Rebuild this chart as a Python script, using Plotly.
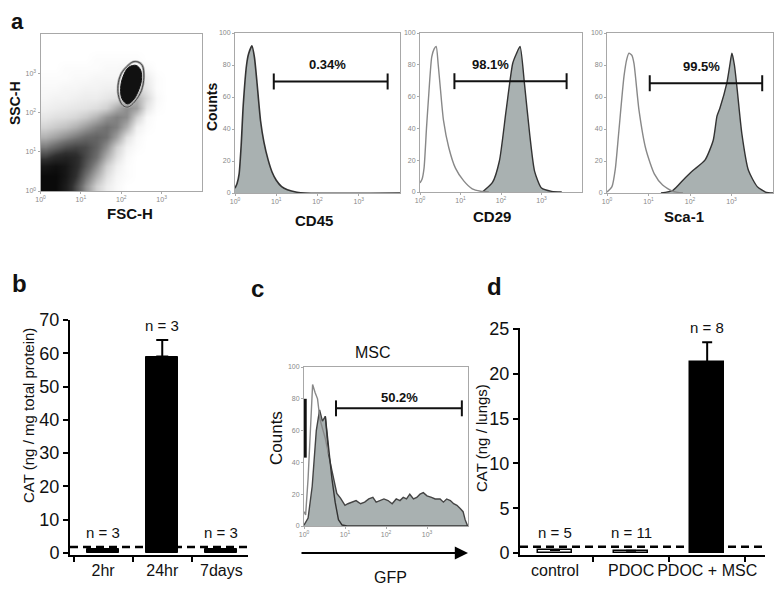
import plotly.graph_objects as go

# page body has an 8px default margin: figure is drawn at (8, 8) inside the 783x593 window
OFF = 8
W, H = 783 - OFF, 593 - OFF

# ---------------- DATA ----------------
# Panel a: FSC/SSC density (log10 decades), rows bottom->top
dens_x = [0.125, 0.375, 0.625, 0.875, 1.125, 1.375, 1.625, 1.875,
          2.125, 2.375, 2.625, 2.875, 3.125, 3.375, 3.625, 3.875]
dens_y = dens_x[:]
dens_z = [
    [1.0, 1.0, 0.85, 0.6, 0.35, 0.15, 0.06, 0.02, 0, 0, 0, 0, 0, 0, 0, 0],
    [1.0, 1.0, 0.9, 0.7, 0.45, 0.25, 0.1, 0.03, 0.01, 0, 0, 0, 0, 0, 0, 0],
    [0.9, 0.95, 0.9, 0.75, 0.55, 0.35, 0.15, 0.05, 0.01, 0, 0, 0, 0, 0, 0, 0],
    [0.65, 0.75, 0.8, 0.75, 0.6, 0.45, 0.25, 0.1, 0.02, 0, 0, 0, 0, 0, 0, 0],
    [0.42, 0.5, 0.58, 0.62, 0.6, 0.5, 0.35, 0.15, 0.04, 0.01, 0, 0, 0, 0, 0, 0],
    [0.25, 0.3, 0.36, 0.42, 0.48, 0.5, 0.45, 0.3, 0.1, 0.02, 0, 0, 0, 0, 0, 0],
    [0.14, 0.17, 0.2, 0.25, 0.32, 0.4, 0.45, 0.4, 0.25, 0.05, 0.01, 0, 0, 0, 0, 0],
    [0.08, 0.1, 0.11, 0.13, 0.17, 0.24, 0.34, 0.4, 0.36, 0.15, 0.02, 0, 0, 0, 0, 0],
    [0.05, 0.06, 0.07, 0.08, 0.09, 0.11, 0.15, 0.26, 0.36, 0.3, 0.08, 0.01, 0, 0, 0, 0],
    [0.03, 0.04, 0.04, 0.05, 0.06, 0.06, 0.08, 0.1, 0.16, 0.25, 0.12, 0.02, 0, 0, 0, 0],
    [0.02, 0.02, 0.03, 0.03, 0.04, 0.04, 0.05, 0.05, 0.07, 0.14, 0.08, 0.01, 0, 0, 0, 0],
    [0.01, 0.01, 0.01, 0.02, 0.02, 0.03, 0.03, 0.03, 0.04, 0.08, 0.06, 0.01, 0, 0, 0, 0],
    [0, 0, 0.01, 0.01, 0.01, 0.01, 0.02, 0.02, 0.03, 0.04, 0.02, 0, 0, 0, 0, 0],
    [0, 0, 0, 0, 0, 0.01, 0.01, 0.01, 0.01, 0.01, 0, 0, 0, 0, 0, 0],
    [0] * 16,
    [0] * 16,
]
gate_x = [2.41, 2.52, 2.56, 2.50, 2.33, 2.17, 2.04, 1.94, 1.92, 2.00, 2.17, 2.29, 2.41]
gate_y = [3.29, 3.20, 2.90, 2.56, 2.27, 2.14, 2.18, 2.39, 2.69, 2.99, 3.20, 3.29, 3.29]
blob_x = [2.37, 2.48, 2.50, 2.41, 2.29, 2.15, 2.02, 1.985, 2.04, 2.18, 2.37]
blob_y = [3.20, 3.08, 2.82, 2.52, 2.31, 2.22, 2.35, 2.61, 2.90, 3.15, 3.20]

# Panel a histograms (x in log10 decades, y = counts)
cd45_x = [0.0, 0.05, 0.1, 0.15, 0.2, 0.28, 0.33, 0.41, 0.47, 0.53, 0.62, 0.7, 0.8, 0.9, 1.0, 1.13, 1.27, 1.5, 1.7, 4.0]
cd45_y = [3, 6, 12, 30, 55, 80, 87, 92, 85, 70, 45, 32, 21, 13, 8, 4, 2, 0.5, 0, 0]
cd29_open_x = [0.0, 0.05, 0.1, 0.16, 0.21, 0.29, 0.35, 0.4, 0.45, 0.5, 0.58, 0.71, 0.875, 1.08, 1.29, 1.5, 1.7]
cd29_open_y = [5.7, 8, 15, 40, 59, 85, 90, 91.5, 80, 66, 45, 28, 15, 7, 2, 0.5, 0]
cd29_fill_x = [1.54, 1.79, 1.96, 2.125, 2.29, 2.38, 2.47, 2.58, 2.71, 2.83, 3.0, 3.25, 3.5]
cd29_fill_y = [0, 6, 19.5, 51, 81, 87, 91.5, 68, 36, 13, 2.5, 0.4, 0]
sca1_open_x = [0.0, 0.12, 0.2, 0.28, 0.41, 0.48, 0.53, 0.6, 0.65, 0.77, 0.94, 1.14, 1.34, 1.59, 1.83]
sca1_open_y = [0.6, 4, 15, 37, 73, 84, 87.4, 86, 81, 52, 27, 12, 5, 1, 0]
sca1_fill_x = [1.3, 1.59, 1.83, 2.07, 2.36, 2.56, 2.65, 2.72, 2.89, 2.96, 3.01, 3.07, 3.13, 3.25, 3.41, 3.62, 3.82, 4.0]
sca1_fill_y = [0, 1.7, 8, 14, 20.5, 33, 48, 53, 69, 80, 87.4, 80, 66.5, 37, 14, 4, 0.6, 0]

flow_labels = ["0.34%", "98.1%", "99.5%"]
flow_gate_lo = [0.94, 0.85, 1.03]
flow_gate_hi = [3.70, 3.62, 3.74]
flow_gate_level = [69.7, 69.7, 68.6]
flow_text_x = [2.25, 1.75, 2.28]
flow_text_y = [80, 80, 79]
flow_markers = ["CD45", "CD29", "Sca-1"]

# Panel b
b_cats = ["2hr", "24hr", "7days"]
b_vals = [1.2, 59, 1.2]
b_err = [0, 5, 0]
b_n = ["n = 3", "n = 3", "n = 3"]
b_threshold = 1.8

# Panel c (GFP)
gfp_fill_x = [0.0, 0.1, 0.2, 0.3, 0.38, 0.45, 0.52, 0.6, 0.68, 0.8, 0.89, 1.0, 1.07, 1.15, 1.27, 1.38,
              1.48, 1.58, 1.68, 1.76, 1.84, 1.95, 2.05, 2.15, 2.25, 2.34, 2.42, 2.5, 2.58, 2.67, 2.75,
              2.83, 2.91, 3.0, 3.11, 3.2, 3.32, 3.4, 3.48, 3.57, 3.65, 3.73, 3.81, 3.88, 3.93, 3.99]
gfp_fill_y = [0.5, 5, 25, 60, 73, 66, 69, 45, 35, 20.5, 17.5, 13, 14, 15, 16, 14,
              15, 17, 18, 15, 16, 17, 16, 14, 17, 16, 18, 17, 20, 17, 18,
              20, 21, 19, 18, 17, 17, 15, 17, 16, 14, 13, 11, 9, 4, 0]
gfp_open_x = [0.0, 0.04, 0.1, 0.15, 0.21, 0.27, 0.33, 0.39, 0.46, 0.52, 0.6]
gfp_open_y = [9, 7, 30, 62, 89, 84, 80, 67, 60, 55, 45]
gfp_ctrl_x = [0.52, 0.6, 0.68, 0.76, 0.84, 0.93, 1.05, 4.0]
gfp_ctrl_y = [69, 48, 30, 15, 4, 0.6, 0, 0]
gfp_edge_x = [0.03, 0.03]
gfp_edge_y = [43, 80]
gfp_label = "50.2%"
gfp_gate = [0.78, 3.85, 74]
gfp_text = [2.32, 81]

# Panel d
d_cats = ["control", "PDOC", "PDOC + MSC"]
d_vals = [0.35, 0.25, 21.3]
d_err = [0, 0, 2.2]
d_n = ["n = 5", "n = 11", "n = 8"]
d_threshold = 0.7

# ---------------- FIGURE ----------------
FONT = "Liberation Sans, Arial, sans-serif"


def dx(a, b):
    return [(a - OFF) / W, (b - OFF) / W]


def dy(top, bottom):
    return [1 - (bottom - OFF) / H, 1 - (top - OFF) / H]


fig = go.Figure()
dec_text = ["10<sup>0</sup>", "10<sup>1</sup>", "10<sup>2</sup>", "10<sup>3</sup>"]

# scatter density
fig.add_trace(go.Heatmap(x=dens_x, y=dens_y, z=dens_z, zsmooth="best", showscale=False,
                         zmin=0, zmax=1, xaxis="x", yaxis="y", hoverinfo="skip",
                         colorscale=[[0, "#ffffff"], [0.03, "#f6f6f6"], [0.1, "#e0e0e0"],
                                     [0.25, "#b0b0b0"], [0.45, "#707070"], [0.7, "#303030"],
                                     [1, "#0a0a0a"]]))
fig.add_trace(go.Scatter(x=blob_x, y=blob_y, mode="lines", line=dict(color="#111", width=1, shape="spline"),
                         fill="toself", fillcolor="#111", xaxis="x", yaxis="y", hoverinfo="skip"))
fig.add_trace(go.Scatter(x=gate_x, y=gate_y, mode="lines", line=dict(color="#aaa", width=2.5, shape="spline"),
                         xaxis="x", yaxis="y", hoverinfo="skip"))
fig.add_trace(go.Scatter(x=gate_x, y=gate_y, mode="lines", line=dict(color="#444", width=1, shape="spline"),
                         xaxis="x", yaxis="y", hoverinfo="skip"))

FILL = "#a9b1b1"
# CD45
fig.add_trace(go.Scatter(x=cd45_x, y=cd45_y, mode="lines", fill="tozeroy", fillcolor=FILL,
                         line=dict(color="#333", width=1.6, shape="spline", smoothing=0.6),
                         xaxis="x2", yaxis="y2"))
# CD29
fig.add_trace(go.Scatter(x=cd29_fill_x, y=cd29_fill_y, mode="lines", fill="tozeroy", fillcolor=FILL,
                         line=dict(color="#333", width=1.4, shape="spline", smoothing=0.6),
                         xaxis="x3", yaxis="y3"))
fig.add_trace(go.Scatter(x=cd29_open_x, y=cd29_open_y, mode="lines",
                         line=dict(color="#888", width=1.4, shape="spline", smoothing=0.6),
                         xaxis="x3", yaxis="y3"))
# Sca-1
fig.add_trace(go.Scatter(x=sca1_fill_x, y=sca1_fill_y, mode="lines", fill="tozeroy", fillcolor=FILL,
                         line=dict(color="#333", width=1.4, shape="spline", smoothing=0.6),
                         xaxis="x4", yaxis="y4"))
fig.add_trace(go.Scatter(x=sca1_open_x, y=sca1_open_y, mode="lines",
                         line=dict(color="#888", width=1.4, shape="spline", smoothing=0.6),
                         xaxis="x4", yaxis="y4"))

# gates for flow histograms
for i, ax in enumerate(["2", "3", "4"]):
    lo, hi, lv = flow_gate_lo[i], flow_gate_hi[i], flow_gate_level[i]
    fig.add_trace(go.Scatter(x=[lo, hi, None, lo, lo, None, hi, hi],
                             y=[lv, lv, None, lv - 5, lv + 5, None, lv - 5, lv + 5],
                             mode="lines", line=dict(color="#111", width=2),
                             xaxis="x" + ax, yaxis="y" + ax))
    fig.add_annotation(x=flow_text_x[i], y=flow_text_y[i], xref="x" + ax, yref="y" + ax,
                       text="<b>%s</b>" % flow_labels[i], showarrow=False,
                       font=dict(family=FONT, size=13, color="#111"))

# panel c
fig.add_trace(go.Scatter(x=gfp_fill_x, y=gfp_fill_y, mode="lines", fill="tozeroy", fillcolor=FILL,
                         line=dict(color="#444", width=1.4),
                         xaxis="x6", yaxis="y6"))
fig.add_trace(go.Scatter(x=gfp_open_x, y=gfp_open_y, mode="lines",
                         line=dict(color="#888", width=1.4),
                         xaxis="x6", yaxis="y6"))
fig.add_trace(go.Scatter(x=gfp_ctrl_x, y=gfp_ctrl_y, mode="lines",
                         line=dict(color="#333", width=1.4),
                         xaxis="x6", yaxis="y6"))
fig.add_trace(go.Scatter(x=gfp_edge_x, y=gfp_edge_y, mode="lines",
                         line=dict(color="#111", width=3),
                         xaxis="x6", yaxis="y6"))
lo, hi, lv = gfp_gate
fig.add_trace(go.Scatter(x=[lo, hi, None, lo, lo, None, hi, hi],
                         y=[lv, lv, None, lv - 5, lv + 5, None, lv - 5, lv + 5],
                         mode="lines", line=dict(color="#111", width=2),
                         xaxis="x6", yaxis="y6"))
fig.add_annotation(x=gfp_text[0], y=gfp_text[1], xref="x6", yref="y6",
                   text="<b>%s</b>" % gfp_label, showarrow=False,
                   font=dict(family=FONT, size=13, color="#111"))

# panel b bars
fig.add_trace(go.Bar(x=b_cats, y=b_vals, width=0.54, marker=dict(color="black", line=dict(color="black", width=1)),
                     error_y=dict(type="data", symmetric=False,
                                  array=[e if e > 0 else None for e in b_err],
                                  arrayminus=[0 if e > 0 else None for e in b_err],
                                  color="black", thickness=2, width=6),
                     xaxis="x5", yaxis="y5"))
# panel d bars
d_colors = ["white" if v < 5 else "black" for v in d_vals]
fig.add_trace(go.Bar(x=d_cats, y=d_vals, width=0.44,
                     marker=dict(color=d_colors, line=dict(color="black", width=1.5)),
                     error_y=dict(type="data", symmetric=False,
                                  array=[e if e > 0 else None for e in d_err],
                                  arrayminus=[0 if e > 0 else None for e in d_err],
                                  color="black", thickness=2, width=5),
                     xaxis="x7", yaxis="y7"))

# threshold dashed lines
for ax, thr in (("5", b_threshold), ("7", d_threshold)):
    fig.add_shape(type="line", xref="x%s domain" % ax, yref="y" + ax, x0=0, x1=1, y0=thr, y1=thr,
                  line=dict(color="black", width=2.5, dash="8px,5px"), layer="above")

# n labels
for cats, vals, errs, ns, ax, thr in ((b_cats, b_vals, b_err, b_n, "5", b_threshold),
                                      (d_cats, d_vals, d_err, d_n, "7", d_threshold)):
    for c, v, e, n in zip(cats, vals, errs, ns):
        fig.add_annotation(x=c, y=max(v + e, thr), xref="x" + ax, yref="y" + ax, text=n,
                           showarrow=False, yanchor="bottom", yshift=4,
                           font=dict(family=FONT, size=15, color="#111"))

# ---------------- AXES ----------------
def flow_x(dom, anchor):
    return dict(domain=dom, anchor=anchor, range=[0, 4], tickvals=[0, 1, 2, 3], ticktext=dec_text,
                showline=True, mirror=True, linecolor="#a8a8a8", linewidth=1, ticks="outside",
                ticklen=2, tickcolor="#aaa", tickfont=dict(size=7, color="#888", family=FONT),
                showgrid=False, zeroline=False, automargin=False)


def flow_y(dom, anchor, rng, vals, texts=None):
    d = dict(domain=dom, anchor=anchor, range=rng, tickvals=vals,
             showline=True, mirror=True, linecolor="#a8a8a8", linewidth=1, ticks="outside",
             ticklen=2, tickcolor="#aaa", tickfont=dict(size=7, color="#888", family=FONT),
             showgrid=False, zeroline=False, automargin=False)
    if texts:
        d["ticktext"] = texts
    return d


def bar_x(dom, anchor, rng, size):
    return dict(domain=dom, anchor=anchor, type="category", range=rng,
                showline=True, linecolor="black", linewidth=2, ticks="outside", tickson="boundaries",
                ticklen=5, tickwidth=2, tickcolor="black", tickangle=0, automargin=False,
                tickfont=dict(family=FONT, size=size, color="#111"), showgrid=False, zeroline=False)


def bar_y(dom, anchor, rng, step):
    return dict(domain=dom, anchor=anchor, range=rng, dtick=step,
                showline=True, linecolor="black", linewidth=2, ticks="outside", ticklen=5, tickwidth=2,
                tickcolor="black", tickfont=dict(family=FONT, size=18, color="#111"),
                showgrid=False, zeroline=False, automargin=False)


cnt_vals = [0, 20, 40, 60, 80, 100]
layout_axes = dict(
    xaxis=flow_x(dx(40.5, 202), "y"),
    yaxis=flow_y(dy(34, 191), "x", [0, 4], [0, 1, 2, 3], dec_text),
    xaxis2=flow_x(dx(235, 400), "y2"),
    yaxis2=flow_y(dy(33, 193), "x2", [0, 100], cnt_vals),
    xaxis3=flow_x(dx(420, 582), "y3"),
    yaxis3=flow_y(dy(33, 192), "x3", [0, 100], cnt_vals),
    xaxis4=flow_x(dx(607, 773), "y4"),
    yaxis4=flow_y(dy(33, 193), "x4", [0, 100], cnt_vals),
    xaxis6=flow_x(dx(304, 468), "y6"),
    yaxis6=flow_y(dy(367, 526), "x6", [0, 100], cnt_vals),
    xaxis5=bar_x(dx(70, 248), "y5", [-0.56, 2.45], 16),
    yaxis5=bar_y(dy(320, 555), "x5", [-0.6, 70], 10),
    xaxis7=bar_x(dx(520, 765), "y7", [-0.46, 2.76], 16),
    yaxis7=bar_y(dy(328, 555), "x7", [-0.22, 25.1], 5),
)

fig.update_layout(width=W, height=H, margin=dict(l=0, r=0, t=0, b=0, autoexpand=False), showlegend=False,
                  paper_bgcolor="white", plot_bgcolor="rgba(0,0,0,0)", bargap=0,
                  font=dict(family=FONT), **layout_axes)


def txt(x, y, s, size, bold=False, angle=0, color="#111"):
    fig.add_annotation(x=(x - OFF) / W, y=1 - (y - OFF) / H, xref="paper", yref="paper",
                       text=("<b>%s</b>" % s) if bold else s,
                       showarrow=False, textangle=angle, xanchor="center", yanchor="middle",
                       font=dict(family=FONT, size=size, color=color))


# panel letters
txt(17, 21, "a", 22, True)
txt(19, 283, "b", 24, True)
txt(257, 288, "c", 24, True)
txt(494, 286, "d", 24, True)

# panel a titles
txt(15, 103, "SSC-H", 14, True, -90)
txt(212, 107, "Counts", 14, True, -90)
txt(130, 213, "FSC-H", 15, True)
txt(314, 220, "CD45", 15, True)
txt(492, 216, "CD29", 15, True)
txt(684, 216, "Sca-1", 15, True)

# panel b title
txt(28, 416, "CAT (ng / mg total protein)", 15, False, -90)
# panel c titles
txt(373, 352, "MSC", 16)
txt(276, 438, "Counts", 17, False, -90)
txt(390, 577, "GFP", 16)
# panel d title
txt(481, 438, "CAT (ng / lungs)", 15, False, -90)

# GFP arrow (head at right end, tail 168 px to the left)
fig.add_annotation(x=(468 - OFF) / W, y=1 - (553 - OFF) / H, xref="paper", yref="paper", ax=-168, ay=0,
                   axref="pixel", ayref="pixel", showarrow=True, arrowhead=2, arrowsize=1.2,
                   arrowwidth=2.2, arrowcolor="black", text="")

fig.write_html("out.html")
